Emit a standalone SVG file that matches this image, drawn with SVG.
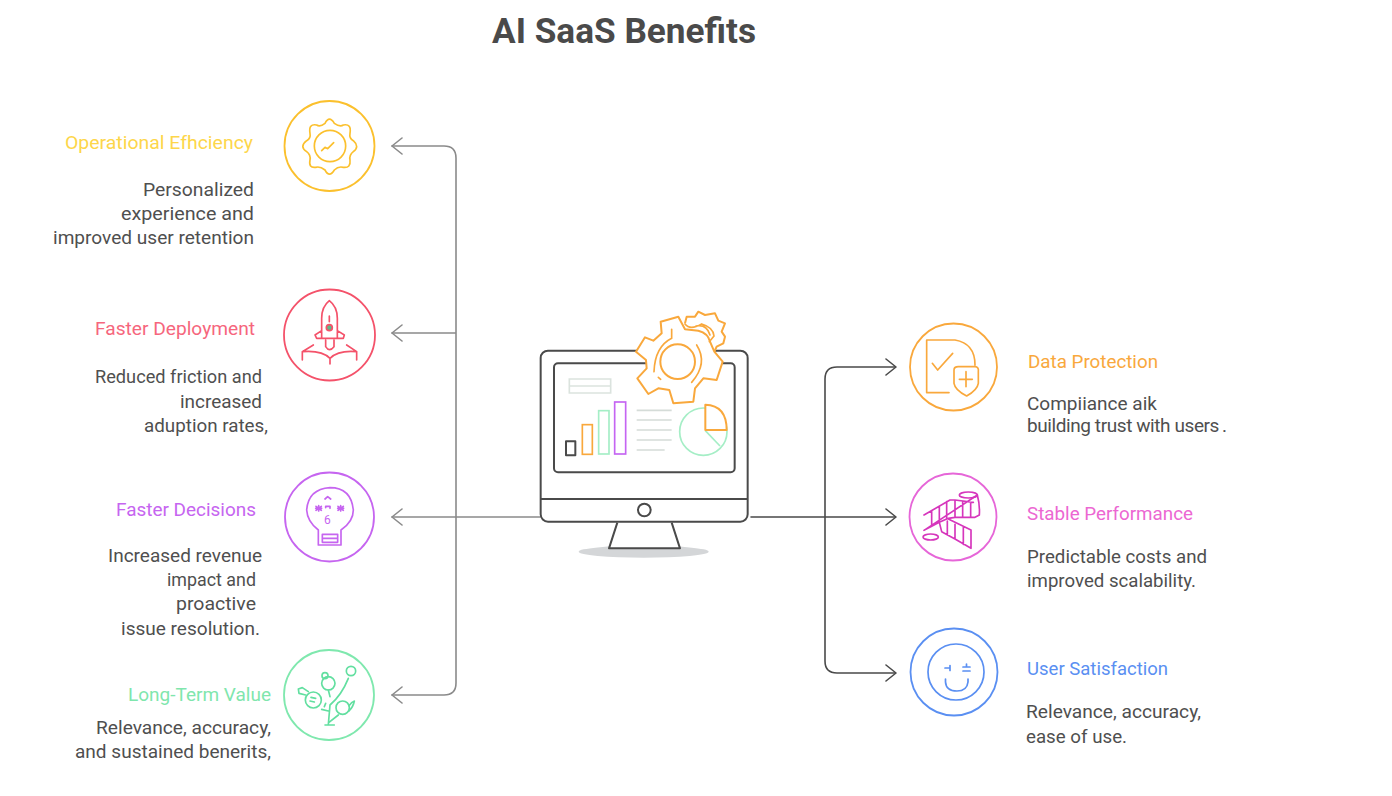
<svg xmlns="http://www.w3.org/2000/svg" width="1392" height="796" viewBox="0 0 1392 796">
<style>
text{font-family:Roboto,"Liberation Sans",sans-serif;font-size:19px;fill:#4f4f4f}
.t{font-size:35px;font-weight:700;fill:#4a4a4a}
.e{text-anchor:end}
.r{fill:none;stroke-width:1.800}
.i{fill:none;stroke-width:1.700;stroke-linecap:round;stroke-linejoin:round}
.j{fill:none;stroke-width:5;stroke-linecap:round;stroke-linejoin:round}
.c{fill:none;stroke:#8a8a8a;stroke-width:1.600;stroke-linecap:round;stroke-linejoin:round}
.d{fill:none;stroke:#4a4a4a;stroke-width:1.600;stroke-linecap:round;stroke-linejoin:round}
.m{fill:none;stroke:#4a4a4a;stroke-width:6;stroke-linejoin:round}
</style>
<rect width="1392" height="796" fill="#fff"/>
<text class="t" x="492" y="42.500" textLength="264" lengthAdjust="spacingAndGlyphs">AI SaaS Benefits</text>

<g id="connectors">
<path class="c" d="M540 517H392M456 333H392M392 146H444Q456 146 456 158V683Q456 695 444 695H392"/>
<path class="c" d="M402 138L392 146L402 154M402 325L392 333L402 341M402 509L392 517L402 525M402 687L392 695L402 703"/>
<path class="d" d="M751 517H895M895 367H837Q825 367 825 379V661Q825 673 837 673H895"/>
<path class="d" d="M886 359L896 367L886 375M886 509L896 517L886 525M886 665L896 673L886 681"/>
</g>

<g id="center-monitor" transform="translate(530 300) scale(.33333)">
<ellipse cx="341" cy="755" rx="195" ry="18" fill="#d4d6d8"/>
<path d="M262 668L237 745H450L425 668" fill="#fff" stroke="#4a4a4a" stroke-width="6" stroke-linejoin="round"/>
<rect x="32" y="152" width="621" height="513" rx="22" fill="#fff" stroke="#4a4a4a" stroke-width="6"/>
<path class="m" d="M32 597H653"/>
<circle class="m" cx="343" cy="630" r="19"/>
<rect class="m" x="72" y="190" width="542" height="327" rx="12"/>
<path d="M118 237H242V279H118ZM118 258H242" fill="none" stroke="#dbe3de" stroke-width="5"/>
<rect class="m" x="108" y="424" width="28" height="42"/>
<rect x="157" y="374" width="30" height="89" fill="none" stroke="#f9a83c" stroke-width="5"/>
<rect x="206" y="332" width="31" height="130" fill="none" stroke="#a5eec6" stroke-width="5"/>
<rect x="254" y="306" width="33" height="156" fill="none" stroke="#c565f2" stroke-width="5"/>
<path d="M320 331H425M320 360H425M320 390H425M320 420H425M320 450H404" fill="none" stroke="#d5dcd8" stroke-width="5"/>
<circle cx="520" cy="395" r="71" fill="none" stroke="#a5eec6" stroke-width="5"/>
<path d="M526 392L570 438" fill="none" stroke="#a5eec6" stroke-width="5"/>
<path d="M526 314Q590 316 590 390H526Z" fill="#fff" stroke="#f9a83c" stroke-width="6" stroke-linejoin="round"/>
<path d="M465 70L470 50L495 50L505 35L525 45L555 40L565 62L585 70L575 95L585 110L580 130L560 140L553 155" fill="#fff" stroke="#f9a83c" stroke-width="6" stroke-linejoin="round"/>
<path d="M318 155L345 112L370 122L395 100L392 65L445 50L465 88L505 92Q535 100 540 125L553 155L578 185L560 240L520 235L495 265L490 305L430 310L418 270L385 265L355 282L322 235L350 205L348 180Z" fill="#fff" stroke="#f9a83c" stroke-width="6" stroke-linejoin="round"/>
<path d="M465 72Q480 92 515 72Q550 82 552 108L538 125M498 78Q530 72 540 105" fill="none" stroke="#f9a83c" stroke-width="5" stroke-linecap="round"/>
<circle cx="443" cy="185" r="52" fill="none" stroke="#f9a83c" stroke-width="6"/>
<path d="M425 88V115Q375 140 372 215M500 135Q535 190 485 247M385 232L392 238" fill="none" stroke="#f9a83c" stroke-width="5" stroke-linecap="round"/>
</g>

<g id="operational-efficiency">
<circle class="r" stroke="#fbc02d" cx="329.500" cy="146" r="45"/>
<g transform="translate(275 90) scale(.33333)" stroke="#fbc02d">
<path class="j" d="M150 100Q163 75 178 100Q195 112 205 105Q230 100 225 130Q222 145 235 152Q255 170 235 185Q222 195 225 210Q228 235 205 232Q190 228 178 240Q163 265 150 240Q135 228 122 232Q100 235 105 210Q108 195 95 185Q72 170 95 152Q108 145 105 130Q100 100 125 105Q135 112 150 100Z"/>
<circle class="j" cx="165" cy="168" r="47"/>
<path class="j" d="M140 182L150 172L158 176L176 158"/>
</g>
<text x="65" y="149" style="fill:#fdd64a" textLength="188" lengthAdjust="spacingAndGlyphs">Operational Efhciency</text>
<text class="e" x="254" y="196" textLength="111" lengthAdjust="spacingAndGlyphs">Personalized</text>
<text class="e" x="254" y="220" textLength="133" lengthAdjust="spacingAndGlyphs">experience and</text>
<text class="e" x="254" y="244" textLength="201" lengthAdjust="spacingAndGlyphs">improved user retention</text>
</g>

<g id="faster-deployment">
<circle class="r" stroke="#f4526a" cx="329.500" cy="335" r="45.500"/>
<g transform="translate(275 90) scale(.33333)" stroke="#f4526a">
<path class="j" d="M163 632Q187 650 187 685V745H140V685Q140 650 163 632ZM163 678V695M140 722L120 735L125 745H140M187 722L208 735L205 745H187M152 750V770Q163 788 177 770V750M82 810V785L115 765M215 765L245 785V810M82 785Q140 780 165 805Q190 780 245 785M165 805V822"/>
<circle cx="163" cy="713" r="9" fill="#5cb88a" stroke-width="5"/>
</g>
<text x="95" y="335" style="fill:#f6667d" textLength="160" lengthAdjust="spacingAndGlyphs">Faster Deployment</text>
<text class="e" x="262" y="383" textLength="167" lengthAdjust="spacingAndGlyphs">Reduced friction and</text>
<text class="e" x="262" y="408" textLength="82" lengthAdjust="spacingAndGlyphs">increased</text>
<text class="e" x="268" y="432" textLength="124" lengthAdjust="spacingAndGlyphs">aduption rates,</text>
</g>

<g id="faster-decisions">
<circle class="r" stroke="#c665f0" cx="329.500" cy="517" r="44.500"/>
<g transform="translate(275 465) scale(.33333)" stroke="#c665f0">
<path class="j" d="M130 195V240H198V195Q235 170 235 135Q228 68 165 68Q100 72 95 135Q97 170 130 195ZM142 208H188V232H142ZM142 220H188M150 102L158 95L167 102M152 128V124H165V130M122 130H140M131 122V138M123 124L139 136M139 124L123 136M188 130H206M197 122V138M189 124L205 136M205 124L189 136"/>
</g>
<text x="324" y="524" style="fill:#c665f0;font-size:12px">6</text>
<text x="116" y="516" style="fill:#c665f0" textLength="140" lengthAdjust="spacingAndGlyphs">Faster Decisions</text>
<text class="e" x="262" y="562" textLength="154" lengthAdjust="spacingAndGlyphs">Increased revenue</text>
<text class="e" x="256" y="586" textLength="89" lengthAdjust="spacingAndGlyphs">impact and</text>
<text class="e" x="256" y="610" textLength="80" lengthAdjust="spacingAndGlyphs">proactive</text>
<text class="e" x="260" y="635" textLength="139" lengthAdjust="spacingAndGlyphs">issue resolution.</text>
</g>

<g id="long-term-value">
<circle class="r" stroke="#7fe8ae" cx="329" cy="695" r="45"/>
<g transform="translate(275 465) scale(.33333)" stroke="#62dfa0">
<circle class="j" cx="228" cy="618" r="14"/>
<circle class="j" cx="160" cy="655" r="20"/>
<circle class="j" cx="150" cy="632" r="9"/>
<circle class="j" cx="115" cy="705" r="24"/>
<circle class="j" cx="203" cy="728" r="20"/>
<path class="j" d="M150 780H178M160 778L165 720Q200 690 220 640M140 733L160 738M162 772L190 750M160 675L165 695M152 715L148 725M92 690L72 685L70 672L82 668L100 680M222 722Q230 710 238 708Q235 725 222 738M108 697L122 700M105 708L118 711"/>
</g>
<text x="128" y="701" style="fill:#7fe6ad" textLength="143" lengthAdjust="spacingAndGlyphs">Long-Term Value</text>
<text class="e" x="271" y="734" textLength="175" lengthAdjust="spacingAndGlyphs">Relevance, accuracy,</text>
<text class="e" x="271" y="758" textLength="196" lengthAdjust="spacingAndGlyphs">and sustained benerits,</text>
</g>

<g id="data-protection">
<circle class="r" stroke="#f9a83c" cx="953.500" cy="367" r="43.500"/>
<g transform="translate(900 315) scale(.33333)" stroke="#f9a83c">
<path class="j" d="M147 233H80V75H165Q225 85 225 150M97 145L113 165L158 115M162 165Q162 155 175 155H225Q237 155 235 170V205Q232 225 200 243Q165 225 162 205ZM198 170V215M178 193H217"/>
</g>
<text x="1028" y="368" style="fill:#f9a83c" textLength="130" lengthAdjust="spacingAndGlyphs">Data Protection</text>
<text x="1027" y="410">Compiiance aik</text>
<text x="1027" y="432" textLength="200" lengthAdjust="spacing">building trust with users<tspan dx="3">.</tspan></text>
</g>

<g id="stable-performance">
<circle class="r" stroke="#e666d8" cx="953" cy="517" r="43.500"/>
<g transform="translate(900 315) scale(.33333)" stroke="#d636bc">
<ellipse class="j" cx="205" cy="540" rx="27" ry="9"/>
<ellipse class="j" cx="92" cy="666" rx="23" ry="9"/>
<path class="j" d="M72 600L150 555H165L220 562M232 540Q240 570 238 600L225 607H165L145 610L118 622L72 646ZM95 588V634M118 575V622M140 560V610M165 555V607M188 562V607M212 562V607M118 622L125 650L165 672L213 700V645L145 612M142 618V660M165 628V672M190 637V688"/>
</g>
<text x="1027" y="520" style="fill:#ec67d2" textLength="166" lengthAdjust="spacingAndGlyphs">Stable Performance</text>
<text x="1027" y="563" textLength="180" lengthAdjust="spacingAndGlyphs">Predictable costs and</text>
<text x="1027" y="587" textLength="169" lengthAdjust="spacingAndGlyphs">improved scalability.</text>
</g>

<g id="user-satisfaction">
<circle class="r" stroke="#5a8ff2" cx="954" cy="672" r="43.500"/>
<circle class="i" stroke="#5a8ff2" cx="956" cy="672" r="28"/>
<path class="i" stroke="#5a8ff2" stroke-width="1.400" d="M945.500 679V682Q946 691 957 691Q967 691 968 682V679M945 668H950M950 665.500V670.500M963 667H970M963 671H970M966.500 664V667"/>
<text x="1027" y="675" style="fill:#5a8ff2" textLength="141" lengthAdjust="spacingAndGlyphs">User Satisfaction</text>
<text x="1026" y="718" textLength="175" lengthAdjust="spacingAndGlyphs">Relevance, accuracy,</text>
<text x="1026" y="743" textLength="101" lengthAdjust="spacingAndGlyphs">ease of use.</text>
</g>
</svg>
